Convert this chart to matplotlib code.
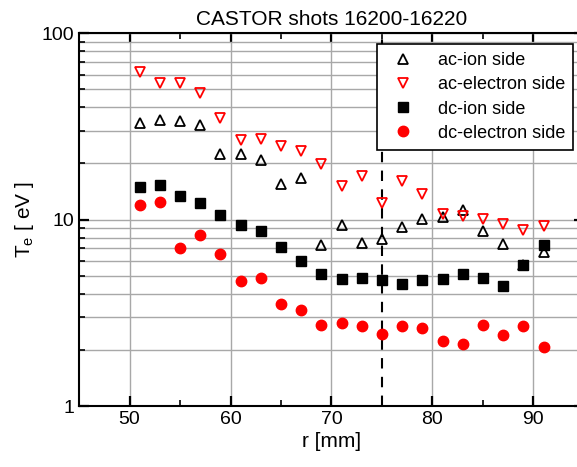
import matplotlib
matplotlib.use("Agg")
import matplotlib.pyplot as plt
from matplotlib.ticker import FixedLocator, NullFormatter, LogLocator

plt.rcParams['font.family'] = ['Liberation Sans', 'DejaVu Sans']

r = [51, 53, 55, 57, 59, 61, 63, 65, 67, 69, 71, 73, 75, 77, 79, 81, 83, 85, 87, 89, 91]
ac_ion = [32.8, 34.1, 34.0, 32.1, 22.4, 22.6, 20.8, 15.6, 16.8, 7.3, 9.3, 7.45, 7.9,
          9.15, 10.1, 10.3, 11.2, 8.7, 7.4, 5.7, 6.7]
ac_electron = [62, 53.7, 54, 48, 35, 26.7, 27, 24.8, 23.4, 19.8, 15.1, 17.2, 12.2,
               16.1, 13.7, 10.7, 10.4, 10.1, 9.5, 8.8, 9.25]
dc_ion = [15.0, 15.3, 13.4, 12.2, 10.6, 9.4, 8.7, 7.1, 6.0, 5.1, 4.8, 4.87, 4.74,
          4.49, 4.72, 4.78, 5.12, 4.87, 4.4, 5.7, 7.3]
dc_electron = [12.0, 12.4, 7.0, 8.26, 6.5, 4.66, 4.84, 3.52, 3.27, 2.73, 2.8, 2.69, 2.42,
               2.69, 2.61, 2.24, 2.14, 2.71, 2.4, 2.69, 2.07]

fig = plt.figure(figsize=(5.77, 4.67), dpi=100)
# right edge of the axes sits just past the picture edge (cropped like the original)
ax = fig.add_axes([0.137, 0.1306, 0.875, 0.7984])

ax.set_yscale('log')
ax.set_xlim(45, 95)
ax.set_ylim(1, 100)

ax.xaxis.set_major_locator(FixedLocator([50, 60, 70, 80, 90]))
ax.xaxis.set_minor_locator(FixedLocator([45, 55, 65, 75, 85, 95]))
ax.yaxis.set_major_locator(LogLocator(base=10))
ax.yaxis.set_minor_locator(LogLocator(base=10, subs=range(2, 10)))
ax.yaxis.set_minor_formatter(NullFormatter())
ax.set_yticks([1, 10, 100])
ax.set_yticklabels(['1', '10', '100'])
ax.grid(True, which='major', axis='both', color='#a8a8a8', lw=1)
ax.grid(True, which='minor', axis='y', color='#a8a8a8', lw=1)
ax.set_axisbelow(True)

ax.tick_params(which='both', direction='in', top=True, right=True, labelsize=14)
ax.tick_params(which='major', length=7, width=1.6)
ax.tick_params(which='minor', length=4, width=1.2)
for s in ax.spines.values():
    s.set_linewidth(1.5)

ax.axvline(75, color='black', ls=(0, (5, 4)), lw=1.5, zorder=1.5)

ax.plot(r, ac_ion, ls='none', marker='^', ms=7.5, mfc='none', mec='black', mew=1.3,
        label='ac-ion side')
ax.plot(r, ac_electron, ls='none', marker='v', ms=7.5, mfc='none', mec='red', mew=1.3,
        label='ac-electron side')
ax.plot(r, dc_ion, ls='none', marker='s', ms=6.5, color='black', label='dc-ion side')
ax.plot(r, dc_electron, ls='none', marker='o', ms=7.5, color='red',
        label='dc-electron side')

leg = ax.legend(loc='upper right', fontsize=13, frameon=True, fancybox=False,
                edgecolor='black', framealpha=1, borderaxespad=0.6,
                handletextpad=0.9, labelspacing=0.4, borderpad=0.45)
leg.get_frame().set_linewidth(1.2)

ax.set_title('CASTOR shots 16200-16220', fontsize=15, pad=6)
ax.set_xlabel('r [mm]', fontsize=15, labelpad=3)
ax.set_ylabel('T$_\\mathregular{e}$ [ eV ]', fontsize=15, labelpad=4)

fig.savefig('out.png', dpi=100)
